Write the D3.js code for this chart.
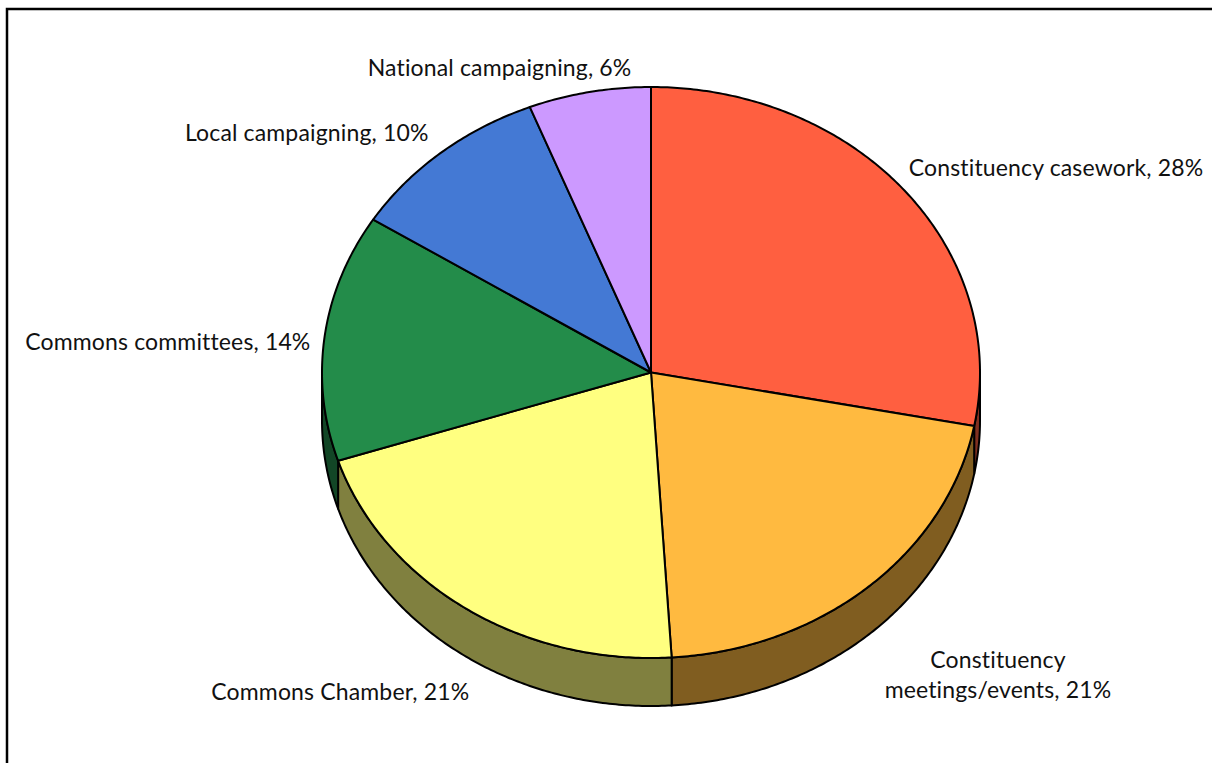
<!DOCTYPE html>
<html>
<head>
<meta charset="utf-8">
<script src="https://cdn.jsdelivr.net/npm/d3@7"></script>
<style>
  html, body { margin: 0; padding: 0; background: #fff; }
  svg { display: block; }
  text { font-family: Lato, "Open Sans", sans-serif; font-size: 23px; letter-spacing: 0.15px; fill: #111; }
</style>
</head>
<body>
<svg id="chart" width="1212" height="763"></svg>
<script>
// Share of time spent by activity (percent)
const categories = [
  "Constituency casework",
  "Constituency meetings/events",
  "Commons Chamber",
  "Commons committees",
  "Local campaigning",
  "National campaigning"
];
const shares = [28, 21, 21, 14, 10, 6];
const topColors  = ["#ff5f40", "#ffba40", "#ffff80", "#238c4a", "#4479d4", "#cc99ff"];
const sideColors = ["#803020", "#805d20", "#80803f", "#124626", "#223c6a", "#664c80"];

// label text lines (the meetings label wraps onto two lines)
const labelLines = [
  ["Constituency casework, 28%"],
  ["Constituency", "meetings/events, 21%"],
  ["Commons Chamber, 21%"],
  ["Commons committees, 14%"],
  ["Local campaigning, 10%"],
  ["National campaigning, 6%"]
];

// label placement: anchor side and fine offset from the slice's outer point
const labelLayout = [
  { anchor: "start",  dx: -16,  dy: 0 },
  { anchor: "middle", dx: 112,  dy: 16 },
  { anchor: "end",    dx: 18,   dy: 24 },
  { anchor: "end",    dx: 12,   dy: 16 },
  { anchor: "end",    dx: 4,    dy: 6 },
  { anchor: "end",    dx: 47,   dy: 6 }
];

const svg = d3.select("#chart");
const W = 1212, H = 763;

// frame (top and left edges)
svg.append("path")
  .attr("d", `M7,${H} L7,9 L${W},9`)
  .attr("fill", "none")
  .attr("stroke", "#000")
  .attr("stroke-width", 2.5);

// tilted pie geometry
const cx = 651, cy = 372.5, rx = 329, ry = 285.5, depth = 48;
const px = a => cx + rx * Math.sin(a);
const py = a => cy - ry * Math.cos(a);

const pie = d3.pie().sort(null).value(d => d)
  .startAngle(0).endAngle(2 * Math.PI);
const arcs = pie(shares);

const line = d3.line();

// ellipse arc samples between two angles
function rim(a0, a1, dy) {
  const n = Math.max(2, Math.ceil(Math.abs(a1 - a0) / 0.01));
  return d3.range(n + 1).map(i => {
    const a = a0 + (a1 - a0) * i / n;
    return [px(a), py(a) + dy];
  });
}

// outer walls: only the front half (angles between 90° and 270°) faces the viewer
const gSide = svg.append("g");
arcs.forEach((d, i) => {
  const a0 = Math.max(d.startAngle, Math.PI / 2);
  const a1 = Math.min(d.endAngle, 3 * Math.PI / 2);
  if (a1 <= a0) return;
  const pts = rim(a0, a1, 0).concat(rim(a1, a0, depth));
  gSide.append("path")
    .attr("d", line(pts) + "Z")
    .attr("fill", sideColors[i])
    .attr("stroke", "#000")
    .attr("stroke-width", 2)
    .attr("stroke-linejoin", "round");
});

// top faces
const gTop = svg.append("g");
arcs.forEach((d, i) => {
  const pts = [[cx, cy]].concat(rim(d.startAngle, d.endAngle, 0));
  gTop.append("path")
    .attr("d", line(pts) + "Z")
    .attr("fill", topColors[i])
    .attr("stroke", "#000")
    .attr("stroke-width", 2)
    .attr("stroke-linejoin", "round");
});

// labels placed outside each slice's mid angle
const k = 1.08;
const gLab = svg.append("g");
arcs.forEach((d, i) => {
  const m = (d.startAngle + d.endAngle) / 2;
  let x = cx + rx * k * Math.sin(m);
  let y = cy - ry * k * Math.cos(m);
  if (Math.cos(m) < 0) y += depth;
  const L = labelLayout[i];
  const t = gLab.append("text")
    .attr("text-anchor", L.anchor)
    .attr("x", x + L.dx)
    .attr("y", y + L.dy);
  labelLines[i].forEach((s, j) => {
    t.append("tspan")
      .attr("x", x + L.dx)
      .attr("dy", j === 0 ? 0 : 30)
      .text(s);
  });
});
</script>
</body>
</html>
